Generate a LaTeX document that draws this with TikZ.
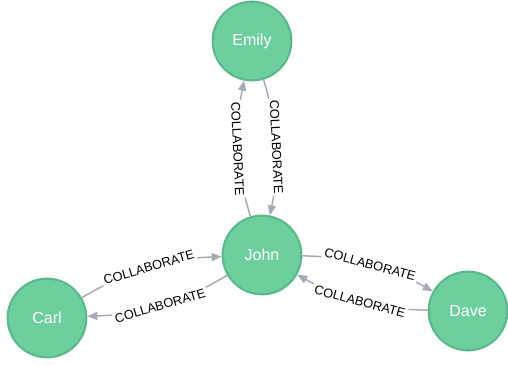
\documentclass[tikz,border=0pt]{standalone}
\usepackage{fontspec}
\setmainfont{Liberation Sans}
\usetikzlibrary{arrows.meta}
\definecolor{nodefill}{HTML}{6DCE9E}
\definecolor{nodeline}{HTML}{5DB98C}
\definecolor{relline}{HTML}{A5ABB6}
\begin{document}
\begin{tikzpicture}[x=0.75pt,y=0.75pt,>={Triangle[length=7.5pt,width=6pt]}]
			\tikzstyle{n} = [draw=nodeline, fill=nodefill, line width=1.6pt, circle, minimum size=59pt, inner sep=0pt, text=white, font=\fontsize{12}{14}\selectfont]
			\tikzstyle{rel} = [->, draw=relline, line width=1.1pt]
			\tikzstyle{lab} = [sloped, fill=white, inner sep=1.5pt, text=black, font=\fontsize{9.6}{11}\selectfont]
			\useasboundingbox (0,0) rectangle (508,365);
			\node [n] (e) at (252,324) {Emily};
			\node [n] (j) at (262,110) {John};
			\node [n] (c) at (47,47) {Carl};
			\node [n] (d) at (468,54) {Dave};
			
			\draw [rel] (e) to[bend left=14] node[lab] (l1) {COLLABORATE} (j);
			\draw [rel] (j) to[bend left=14] node[lab] (l2) {COLLABORATE} (e);
			
			\draw [rel] (c) to[bend left=14] node[lab] (l3) {COLLABORATE} (j);
			\draw [rel] (j) to[bend left=14] node[lab] (l4) {COLLABORATE} (c);
			
			\draw [rel] (j) to[bend left=14] node[lab] (l5) {COLLABORATE} (d);
			\draw [rel] (d) to[bend left=14] node[lab] (l6) {COLLABORATE} (j);
			
		\end{tikzpicture}
\end{document}
